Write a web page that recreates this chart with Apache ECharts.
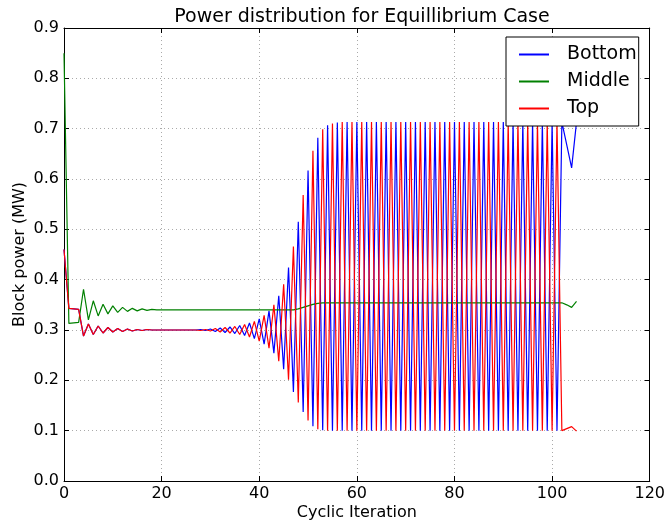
<!DOCTYPE html>
<html>
<head>
<meta charset="utf-8">
<script src="https://cdn.jsdelivr.net/npm/echarts@6/dist/echarts.min.js"></script>
<style>
html,body{margin:0;padding:0;background:#fff;}
#c{width:668px;height:527px;}
</style>
</head>
<body>
<div id="c"></div>
<script>
var xTicks = [0, 20, 40, 60, 80, 100, 120];
var yTicks = [0.0, 0.1, 0.2, 0.3, 0.4, 0.5, 0.6, 0.7, 0.8, 0.9];

var bottom = [
 0.46, 0.343, 0.342, 0.341, 0.288, 0.312, 0.291, 0.308, 0.294, 0.305,
 0.296, 0.303, 0.297, 0.302, 0.298, 0.301, 0.299, 0.301, 0.300, 0.300,
 0.300, 0.300, 0.300, 0.300, 0.300, 0.300, 0.300, 0.300, 0.301, 0.299,
 0.302, 0.297, 0.304, 0.295, 0.306, 0.293, 0.309, 0.289, 0.314, 0.283,
 0.322, 0.272, 0.338, 0.254, 0.368, 0.222, 0.424, 0.177, 0.515, 0.137,
 0.617, 0.109, 0.682, 0.101, 0.707, 0.100, 0.712, 0.100, 0.713, 0.100,
 0.713, 0.100, 0.713, 0.100, 0.713, 0.100, 0.713, 0.100, 0.713, 0.100,
 0.713, 0.100, 0.713, 0.100, 0.713, 0.100, 0.713, 0.100, 0.713, 0.100,
 0.713, 0.100, 0.713, 0.100, 0.713, 0.100, 0.713, 0.100, 0.713, 0.100,
 0.713, 0.100, 0.713, 0.100, 0.713, 0.100, 0.713, 0.100, 0.713, 0.100,
 0.713, 0.100, 0.713, 0.668, 0.622, 0.713
];

var middle = [
 0.85, 0.313, 0.314, 0.315, 0.381, 0.320, 0.358, 0.328, 0.351, 0.332,
 0.348, 0.335, 0.345, 0.337, 0.343, 0.338, 0.342, 0.339, 0.341, 0.340,
 0.340, 0.340, 0.340, 0.340, 0.340, 0.340, 0.340, 0.340, 0.340, 0.340,
 0.340, 0.340, 0.340, 0.340, 0.340, 0.340, 0.340, 0.340, 0.340, 0.340,
 0.340, 0.340, 0.340, 0.340, 0.340, 0.340, 0.340, 0.340, 0.342, 0.345,
 0.348, 0.351, 0.353, 0.354, 0.354, 0.354, 0.354, 0.354, 0.354, 0.354,
 0.354, 0.354, 0.354, 0.354, 0.354, 0.354, 0.354, 0.354, 0.354, 0.354,
 0.354, 0.354, 0.354, 0.354, 0.354, 0.354, 0.354, 0.354, 0.354, 0.354,
 0.354, 0.354, 0.354, 0.354, 0.354, 0.354, 0.354, 0.354, 0.354, 0.354,
 0.354, 0.354, 0.354, 0.354, 0.354, 0.354, 0.354, 0.354, 0.354, 0.354,
 0.354, 0.354, 0.354, 0.350, 0.345, 0.357
];

var top_ = [
 0.46, 0.343, 0.342, 0.341, 0.288, 0.312, 0.291, 0.308, 0.294, 0.305,
 0.296, 0.303, 0.297, 0.302, 0.298, 0.301, 0.299, 0.301, 0.300, 0.300,
 0.300, 0.300, 0.300, 0.300, 0.300, 0.300, 0.300, 0.300, 0.299, 0.301,
 0.298, 0.303, 0.296, 0.305, 0.294, 0.307, 0.291, 0.311, 0.286, 0.317,
 0.278, 0.329, 0.264, 0.350, 0.238, 0.391, 0.201, 0.466, 0.156, 0.568,
 0.120, 0.656, 0.103, 0.699, 0.100, 0.710, 0.100, 0.713, 0.100, 0.713,
 0.100, 0.713, 0.100, 0.713, 0.100, 0.713, 0.100, 0.713, 0.100, 0.713,
 0.100, 0.713, 0.100, 0.713, 0.100, 0.713, 0.100, 0.713, 0.100, 0.713,
 0.100, 0.713, 0.100, 0.713, 0.100, 0.713, 0.100, 0.713, 0.100, 0.713,
 0.100, 0.713, 0.100, 0.713, 0.100, 0.713, 0.100, 0.713, 0.100, 0.713,
 0.100, 0.713, 0.100, 0.104, 0.108, 0.099
];

function pairs(arr){ return arr.map(function(v,i){ return [i, v]; }); }

var FONT = 'DejaVu Sans';
var chart = echarts.init(document.getElementById('c'), null, {renderer:'canvas'});

var tickStyle = {show:true, inside:true, length:5, lineStyle:{color:'#000', width:1}};
var option = {
  animation: false,
  backgroundColor: '#fff',
  textStyle: {fontFamily: FONT},
  title: {
    text: 'Power distribution for Equillibrium Case',
    left: 357, top: 3, textAlign: 'center',
    textStyle: {fontFamily: FONT, fontSize: 19, fontWeight: 'normal', color: '#000'}
  },
  legend: {
    left: 506, top: 37, orient: 'vertical',
    backgroundColor: '#fff', borderColor: '#000', borderWidth: 1, borderRadius: 0,
    padding: [8, 2, 8, 13], itemGap: 8,
    itemWidth: 30, itemHeight: 2, icon: 'rect',
    textStyle: {fontFamily: FONT, fontSize: 19, color: '#000', padding: [0,0,0,13]},
    data: ['Bottom', 'Middle', 'Top']
  },
  grid: {left: 64, right: 18, top: 28, bottom: 46, containLabel: false},
  xAxis: [{
    type: 'value', min: xTicks[0], max: xTicks[xTicks.length-1], interval: 20,
    name: 'Cyclic Iteration', nameLocation: 'middle', nameGap: 24, nameMoveOverlap: false,
    nameTextStyle: {fontFamily: FONT, fontSize: 16, color: '#000'},
    axisLine: {show:true, onZero:false, lineStyle:{color:'#000', width:1}},
    axisTick: tickStyle,
    axisLabel: {fontFamily: FONT, fontSize: 16, color: '#000', margin: 5},
    splitLine: {show:true, lineStyle:{color:'#aaa', type:[1,3], width:1}}
  },{
    type: 'value', position: 'top', min: 0, max: 120, interval: 20,
    axisLine: {show:true, onZero:false, lineStyle:{color:'#000', width:1}},
    axisTick: tickStyle, axisLabel: {show:false}, splitLine:{show:false}
  }],
  yAxis: [{
    type: 'value', min: yTicks[0], max: yTicks[yTicks.length-1], interval: 0.1,
    name: 'Block power (MW)', nameLocation: 'middle', nameGap: 36, nameMoveOverlap: false,
    nameTextStyle: {fontFamily: FONT, fontSize: 16, color: '#000'},
    axisLine: {show:true, onZero:false, lineStyle:{color:'#000', width:1}},
    axisTick: tickStyle,
    axisLabel: {fontFamily: FONT, fontSize: 16, color: '#000', margin: 5,
      formatter: function(v){ return v.toFixed(1); }},
    splitLine: {show:true, lineStyle:{color:'#aaa', type:[1,3], width:1}}
  },{
    type: 'value', position: 'right', min: 0, max: 0.9, interval: 0.1,
    axisLine: {show:true, onZero:false, lineStyle:{color:'#000', width:1}},
    axisTick: tickStyle, axisLabel: {show:false}, splitLine:{show:false}
  }],
  series: [
    {name:'Bottom', type:'line', data: pairs(bottom), showSymbol:false, symbol:'none',
     lineStyle:{color:'#0000ff', width:1.2}, itemStyle:{color:'#0000ff'}, clip:true},
    {name:'Middle', type:'line', data: pairs(middle), showSymbol:false, symbol:'none',
     lineStyle:{color:'#008000', width:1.2}, itemStyle:{color:'#008000'}, clip:true},
    {name:'Top', type:'line', data: pairs(top_), showSymbol:false, symbol:'none',
     lineStyle:{color:'#ff0000', width:1.2}, itemStyle:{color:'#ff0000'}, clip:true}
  ]
};
chart.setOption(option);
</script>
</body>
</html>
